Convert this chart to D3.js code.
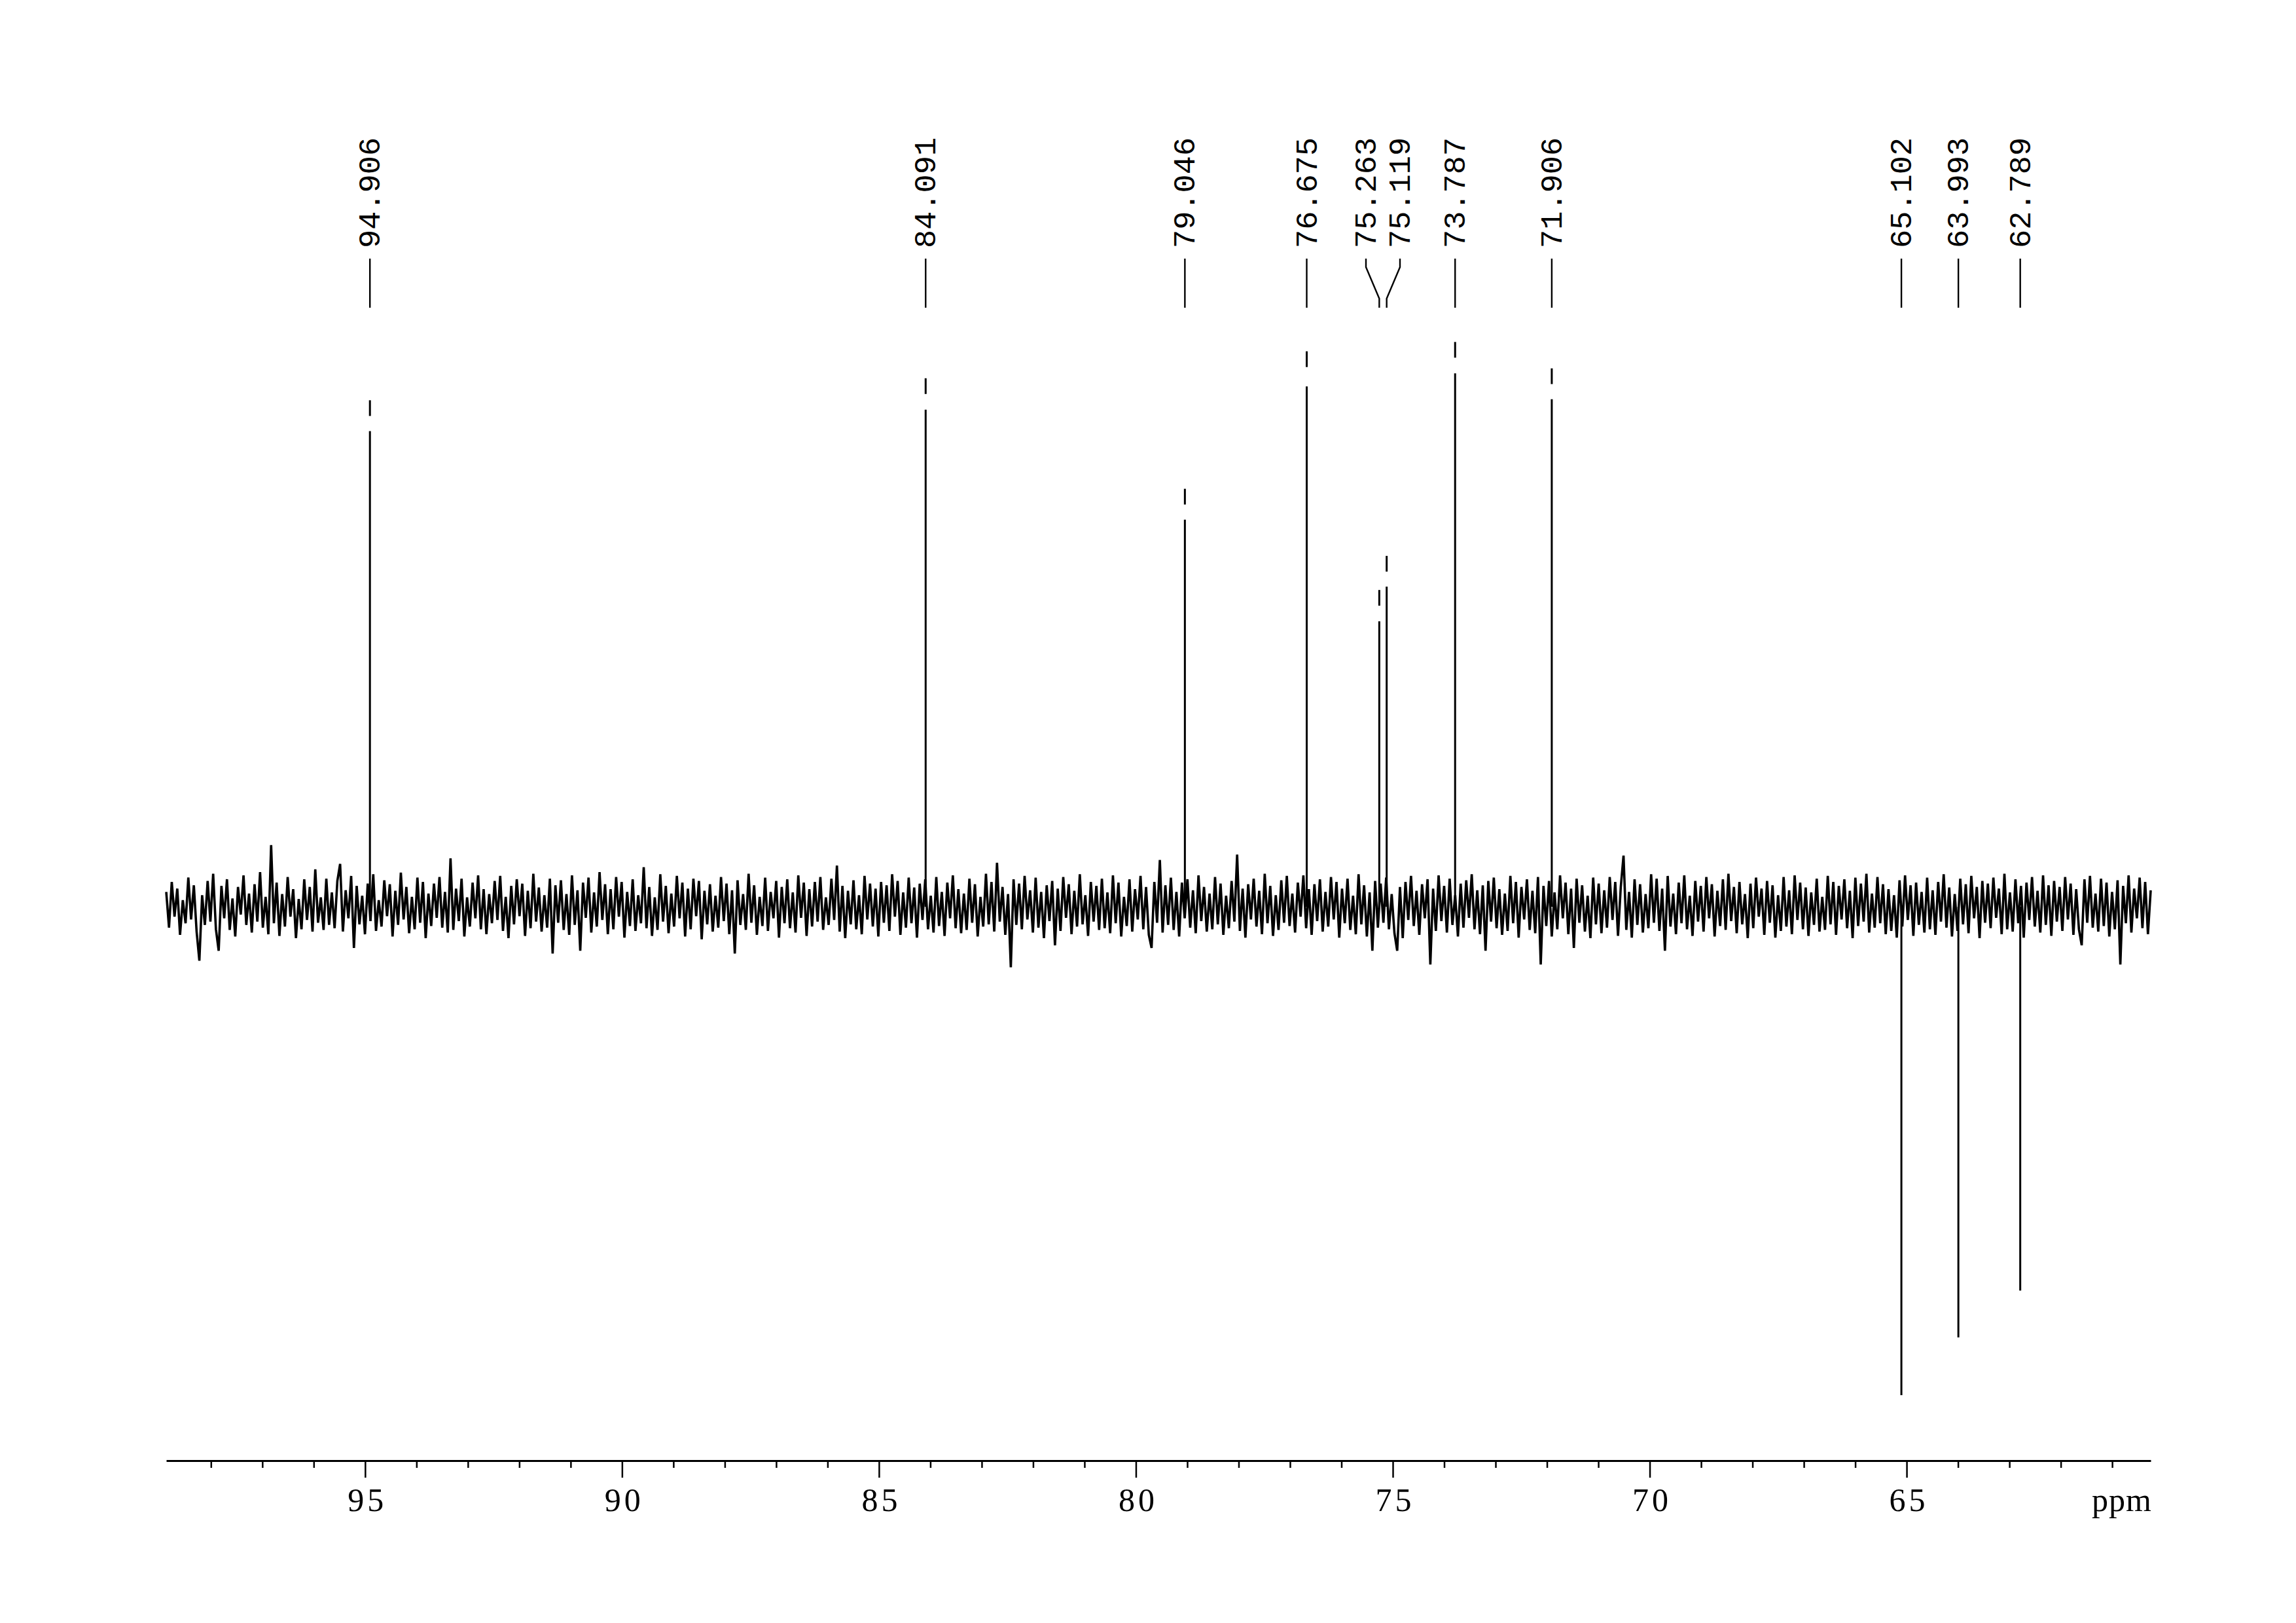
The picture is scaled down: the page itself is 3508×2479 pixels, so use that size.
<!DOCTYPE html>
<html>
<head>
<meta charset="utf-8">
<script src="https://cdn.jsdelivr.net/npm/d3@7"></script>
<style>
  body { margin: 0; background: #fff; }
  svg { display: block; background: #fff; }
</style>
</head>
<body>
<svg id="chart"></svg>
<script>
const [w, h] = [3508, 2479];

// peak positions (ppm) and their intensities (arbitrary units, baseline = 0)
const peakShifts = [94.906, 84.091, 79.046, 76.675, 75.263, 75.119, 73.787, 71.906, 65.102, 63.993, 62.789];
const peakLabels = ['94.906', '84.091', '79.046', '76.675', '75.263', '75.119', '73.787', '71.906', '65.102', '63.993', '62.789'];
const peakTops   = [921, 961, 760, 1010, 576, 638, 1027, 979, -888, -783, -698];
const peakBodies = [865, 904, 704, 946, 519, 582, 970, 923, -888, -783, -698];

// axis
const ppmLeft = 98.87, ppmRight = 60.25;
const majorTicks = [95, 90, 85, 80, 75, 70, 65];
const minorTicks = [98, 97, 96, 94, 93, 92, 91, 89, 88, 87, 86, 84, 83, 82, 81, 79, 78, 77, 76,
                    74, 73, 72, 71, 69, 68, 67, 66, 64, 63, 62, 61];

// baseline noise, evenly spaced samples from ppmLeft to ppmRight
const noise = [
  27,-38,45,-18,33,-51,12,-30,53,-23,39,-45,-98,21,-33,47,-27,60,-41,-80,
  38,-21,50,-42,15,-54,36,-14,57,-33,24,-47,41,-27,63,-38,18,-50,112,-30,
  44,-53,23,-36,54,-18,32,-57,14,-41,50,-24,36,-45,68,-29,17,-42,51,-33,
  26,-39,47,78,-45,30,-21,56,-75,38,-32,20,-50,42,-26,59,-44,12,-36,48,
  -17,41,-54,29,-33,62,-23,36,-48,18,-41,53,-29,45,-57,24,-35,42,-20,54,
  -38,27,-47,88,-42,33,-26,51,-54,17,-36,44,-21,57,-41,32,-50,23,-30,47,
  -24,56,-44,18,-57,38,-32,50,-17,42,-53,29,-39,60,-27,35,-45,21,-38,51,
  -85,39,-29,48,-42,23,-51,57,-33,30,-80,44,-20,53,-47,26,-36,63,-24,41,
  -50,32,-41,54,-18,45,-56,27,-35,50,-44,21,-30,72,-39,36,-53,17,-42,59,
  -27,38,-48,24,-36,56,-21,44,-54,33,-41,51,-17,47,-59,29,-32,41,-45,20,
  -38,54,-26,42,-50,30,-85,48,-33,23,-42,60,-29,39,-51,18,-35,53,-44,27,
  -21,47,-56,36,-30,50,-39,26,-47,57,-20,44,-53,32,-36,45,-27,54,-42,17,
  -33,51,-24,75,-45,38,-57,29,-32,48,-41,21,-50,56,-23,42,-36,33,-54,45,
  -29,39,-44,59,-18,47,-51,26,-38,53,-30,35,-56,42,-24,50,-41,20,-47,54,
  -35,27,-53,44,-21,57,-39,32,-48,24,-42,51,-29,41,-54,18,-36,60,-32,45,
  -45,80,-27,36,-51,23,-110,50,-33,42,-41,56,-23,30,-47,53,-38,27,-57,39,
  -26,47,-70,33,-44,54,-20,41,-50,29,-36,59,-32,21,-53,45,-27,38,-42,51,
  -39,26,-48,57,-30,44,-54,18,-35,50,-45,32,-23,56,-41,36,-51,-75,45,-29,
  85,-47,39,-33,53,-42,27,-54,44,-21,50,-38,30,-48,57,-26,36,-45,24,-41,
  54,-32,42,-51,20,-39,47,-27,95,-44,33,-56,41,-23,51,-36,29,-50,60,-30,
  38,-53,21,-42,48,-29,56,-35,24,-47,44,-18,57,-39,32,-51,41,-26,50,-45,
  27,-36,54,-23,45,-56,33,-30,51,-42,20,-50,59,-32,39,-54,26,-80,47,-38,
  42,-29,53,-41,23,-48,-80,36,-57,45,-24,56,-35,29,-51,41,-21,50,-105,33,
  -44,57,-26,38,-47,51,-33,21,-54,42,-38,48,-20,59,-41,30,-50,39,-80,47,
  -27,53,-39,32,-51,24,-44,56,-30,45,-56,36,-23,50,-42,29,-48,54,-105,38,
  -35,47,-54,26,-41,57,-21,44,-50,33,-75,51,-29,39,-45,20,-57,53,-32,42,
  -48,30,-38,54,-24,45,-53,36,93,-42,27,-56,50,-33,41,-47,23,-39,59,-29,
  51,-44,33,-80,56,-36,24,-50,44,-30,57,-41,20,-53,47,-27,38,-45,54,-21,
  41,-54,29,-35,50,-42,60,-26,36,-48,45,-32,23,-57,42,-39,53,-18,33,-51,
  47,-29,39,-56,21,-44,54,-36,30,-50,57,-24,44,-41,35,-53,26,-33,51,-45,
  18,-42,56,-32,45,-51,38,-23,50,-39,29,-57,53,-35,42,-27,60,-47,24,-38,
  54,-30,41,-50,32,-44,21,-56,48,-36,57,-24,39,-53,44,-33,27,-47,53,-41,
  30,-51,45,-27,59,-38,35,-54,23,-44,51,-32,41,-48,56,-21,36,-57,47,-29,
  42,-39,53,-20,33,-50,60,-41,26,-45,50,-30,38,-56,44,-24,54,-36,29,-47,
  57,-33,39,-53,47,-27,36,-44,54,-23,42,-51,32,-41,-70,50,-29,56,-38,24,
  -45,51,-35,44,-54,27,-41,48,-105,38,-30,57,-47,33,-21,53,-39,45,-50,30
];

const svg = d3.select('#chart')
    .attr('width', w)
    .attr('height', h);

const xScale = d3.scaleLinear()
    .domain([ppmLeft, ppmRight])
    .range([254, 3286]);

const yScale = d3.scaleLinear()
    .domain([-1000, 1000])
    .range([1385 + 840, 1385 - 840]);

// sample index -> ppm
const idx = d3.scaleLinear()
    .domain([0, noise.length - 1])
    .range([ppmLeft, ppmRight]);

// spectrum baseline
svg.append('path')
    .datum(noise)
    .attr('fill', 'none')
    .attr('stroke', '#000')
    .attr('stroke-width', 3.6)
    .attr('d', d3.line()
        .x((d, i) => xScale(idx(i)))
        .y(d => yScale(d)));

const peaks = peakShifts.map((p, i) => ({ppm: p, label: peakLabels[i], top: peakTops[i], body: peakBodies[i]}));

// peak bodies
svg.selectAll('line.peak')
    .data(peaks)
    .enter()
    .append('line')
        .attr('class', 'peak')
        .attr('x1', d => xScale(d.ppm))
        .attr('x2', d => xScale(d.ppm))
        .attr('y1', yScale(0))
        .attr('y2', d => yScale(d.body))
        .attr('stroke', '#000')
        .attr('stroke-width', 3);

// peak apex (drawn detached like the plotter output)
svg.selectAll('line.apex')
    .data(peaks.filter(d => d.top !== d.body))
    .enter()
    .append('line')
        .attr('class', 'apex')
        .attr('x1', d => xScale(d.ppm))
        .attr('x2', d => xScale(d.ppm))
        .attr('y1', d => yScale(d.top))
        .attr('y2', d => yScale(d.top) + 24)
        .attr('stroke', '#000')
        .attr('stroke-width', 3);

// label positions, spread apart where peaks are too close
const minGap = 52;
const lx = peaks.map(d => xScale(d.ppm));
for (let k = 0; k < 20; k++) {
    for (let i = 1; i < lx.length; i++) {
        const gap = lx[i] - lx[i - 1];
        if (gap < minGap) {
            const push = (minGap - gap) / 2;
            lx[i - 1] -= push;
            lx[i] += push;
        }
    }
}

const [yText, yLineTop, yBendTop, yBendBot, yLineBot] = [379, 395, 408, 456, 470];

svg.selectAll('path.leader')
    .data(peaks)
    .enter()
    .append('path')
        .attr('class', 'leader')
        .attr('fill', 'none')
        .attr('stroke', '#000')
        .attr('stroke-width', 2.4)
        .attr('d', (d, i) => {
            const px = xScale(d.ppm);
            return `M${lx[i]},${yLineTop}L${lx[i]},${yBendTop}L${px},${yBendBot}L${px},${yLineBot}`;
        });

svg.selectAll('text.peaklabel')
    .data(peaks)
    .enter()
    .append('text')
        .attr('class', 'peaklabel')
        .attr('transform', (d, i) => `translate(${lx[i]}, ${yText}) rotate(-90)`)
        .attr('dy', '0.32em')
        .style('font-family', '"Liberation Mono", "DejaVu Sans Mono", monospace')
        .style('font-size', '47px')
        .style('fill', '#000')
        .text(d => d.label);

// x axis
const axisY = 2231;

const minorAxis = svg.append('g')
    .attr('transform', `translate(0, ${axisY})`)
    .call(d3.axisBottom(xScale).tickValues(minorTicks).tickSize(11).tickSizeOuter(0).tickFormat(''));
minorAxis.select('.domain').remove();

const majorAxis = svg.append('g')
    .attr('transform', `translate(0, ${axisY})`)
    .call(d3.axisBottom(xScale).tickValues(majorTicks).tickSize(26).tickSizeOuter(0).tickFormat(d3.format('d')));

majorAxis.select('.domain')
    .attr('stroke-width', 3);

svg.selectAll('.tick line')
    .attr('stroke-width', 2.5);

majorAxis.selectAll('text')
    .attr('y', 77)
    .attr('dy', null)
    .attr('dx', '3px')
    .style('font-family', '"Liberation Serif", "Times New Roman", serif')
    .style('font-size', '50px')
    .style('letter-spacing', '5px')
    .style('fill', '#000');

svg.append('text')
    .attr('x', xScale(ppmRight) + 2)
    .attr('y', axisY + 77)
    .style('text-anchor', 'end')
    .style('font-family', '"Liberation Serif", "Times New Roman", serif')
    .style('font-size', '50px')
    .style('letter-spacing', '1px')
    .style('fill', '#000')
    .text('ppm');
</script>
</body>
</html>
